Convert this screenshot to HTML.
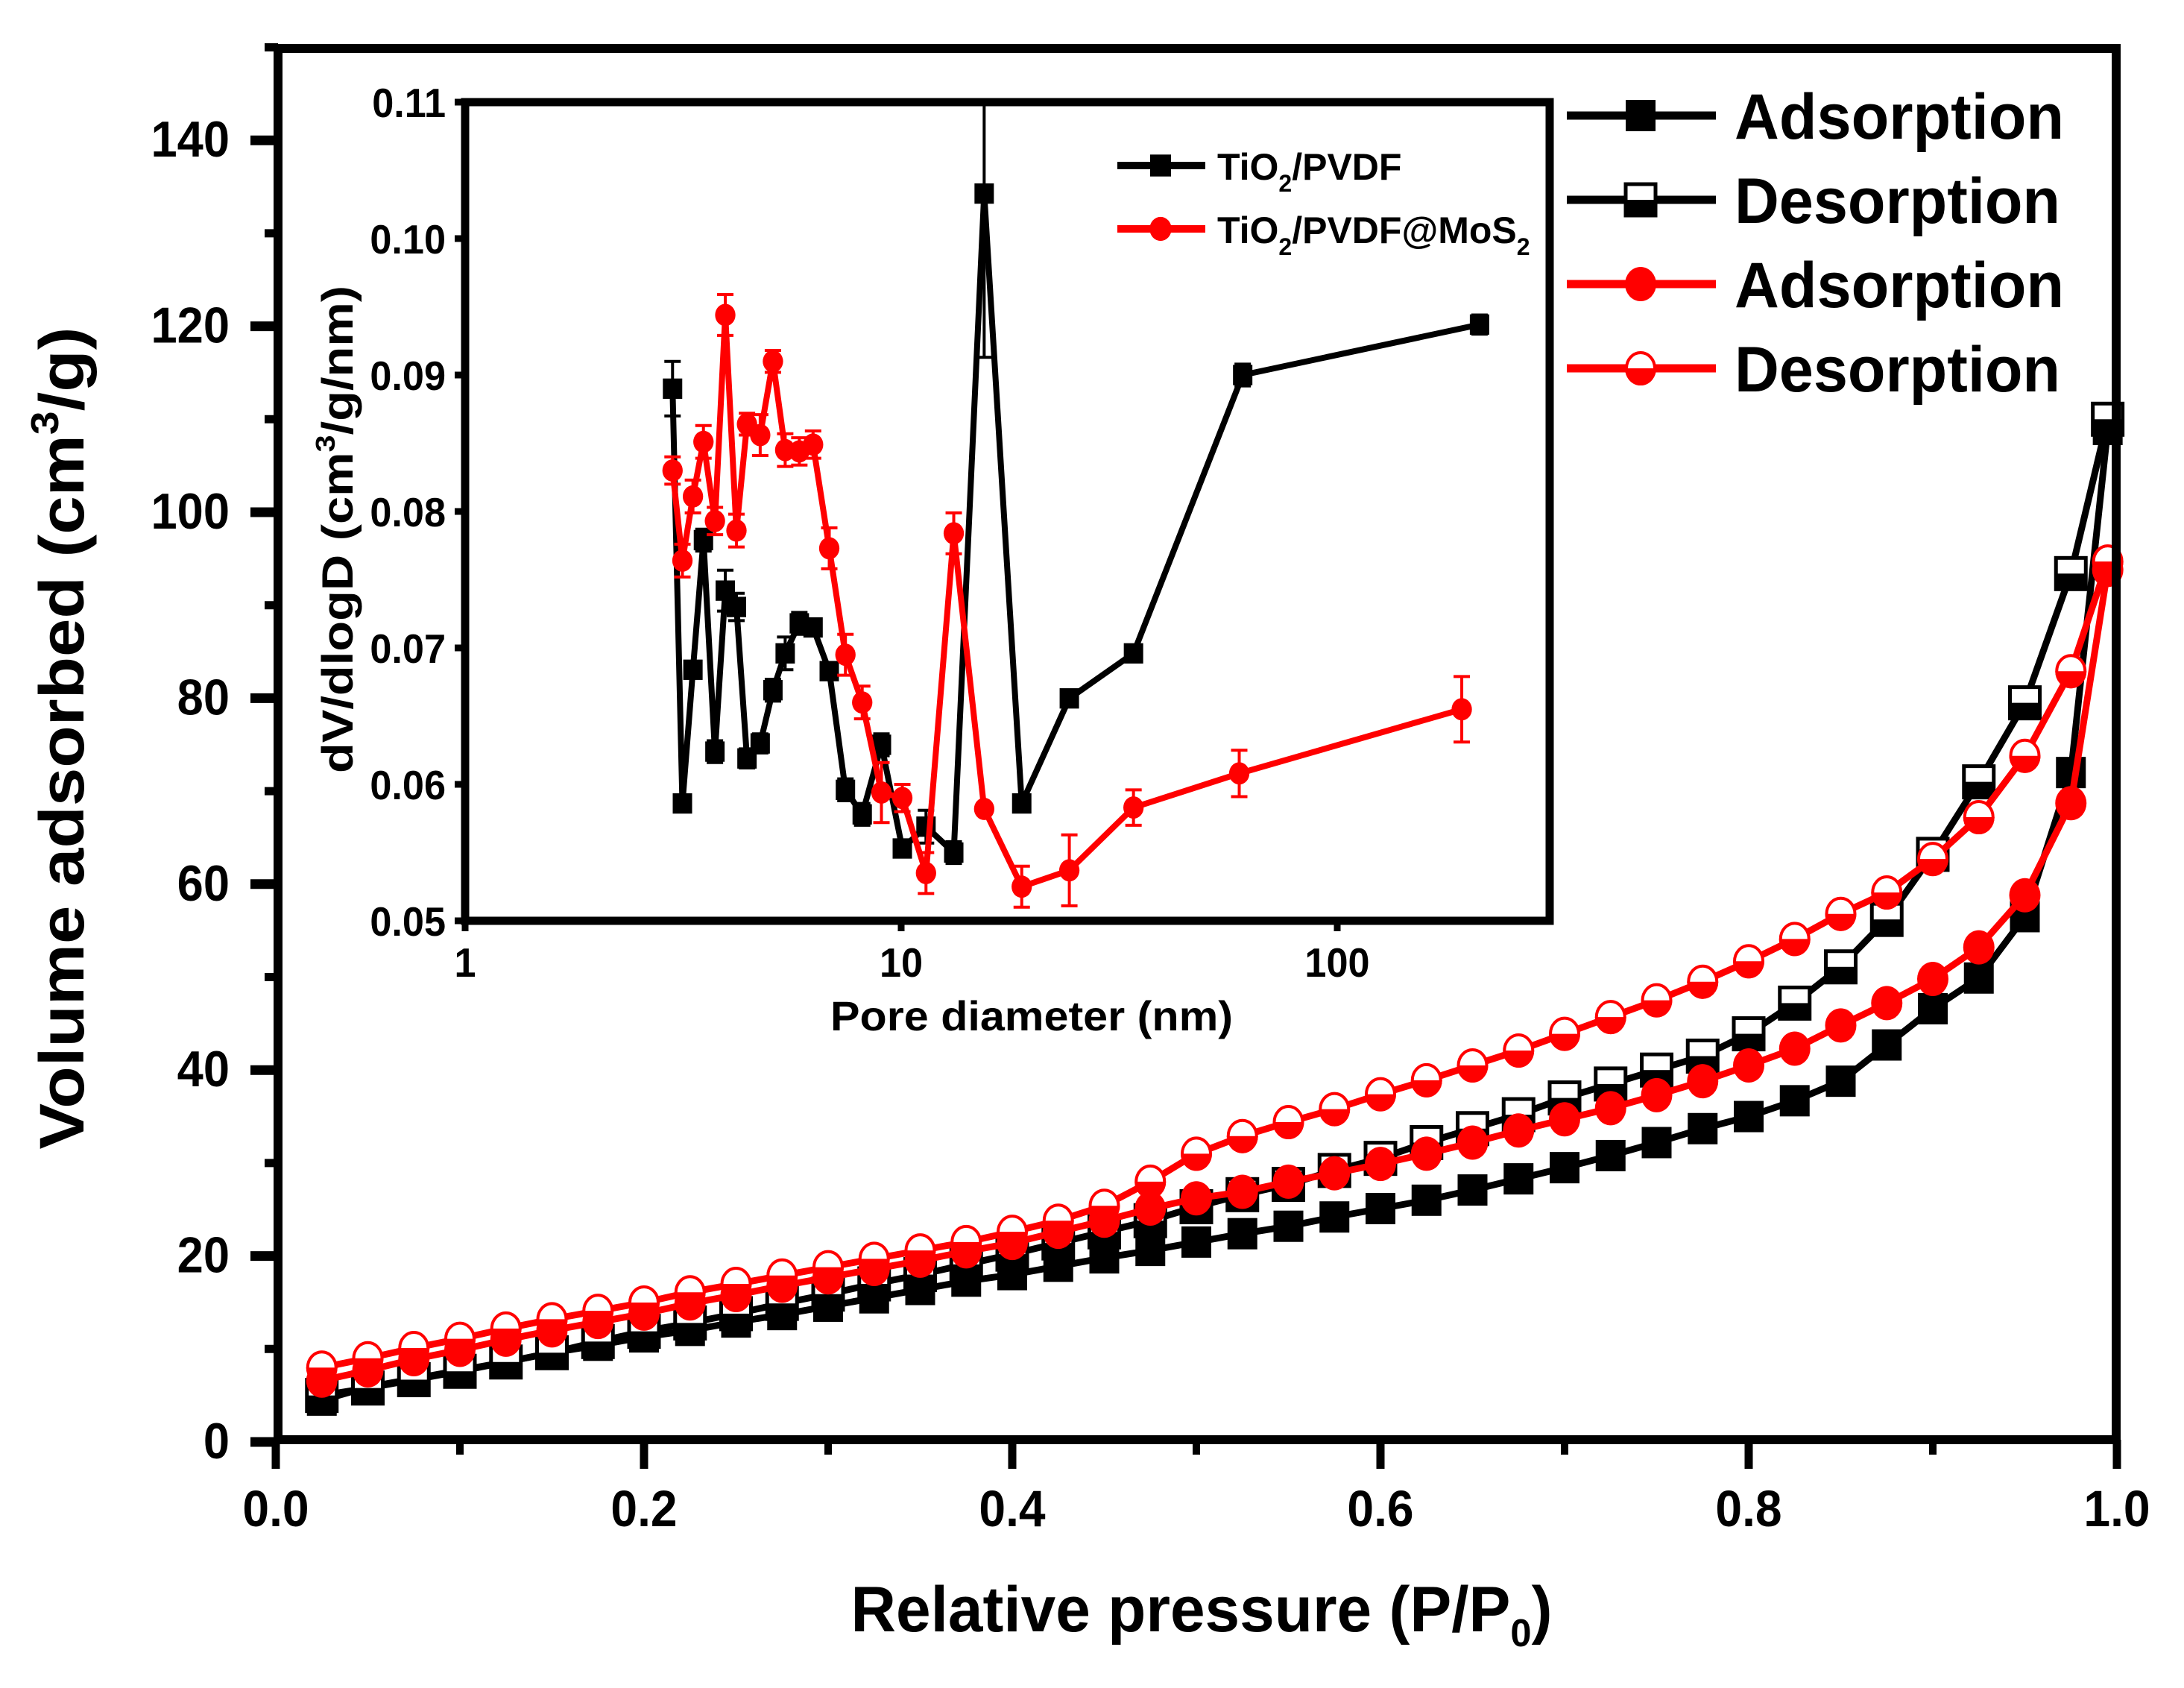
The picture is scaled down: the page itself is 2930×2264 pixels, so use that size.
<!DOCTYPE html>
<html><head><meta charset="utf-8"><style>
html,body{margin:0;padding:0;background:#fff;}
svg{display:block;font-family:"Liberation Sans",Arial,sans-serif;font-weight:bold;}
</style></head><body>
<svg id="chart" width="2930" height="2264" viewBox="0 0 2930 2264" xmlns="http://www.w3.org/2000/svg">
<rect x="0" y="0" width="2930" height="2264" fill="#fff"/>
<g id="main"></g>
<g id="inset"></g>
</svg>
<script>
// ---- main isotherm data ----
const pAds = [0.025,0.05,0.075,0.1,0.125,0.15,0.175,0.2,0.225,0.25,0.275,0.3,0.325,0.35,0.375,0.4,0.425,0.45,0.475,0.5,0.525,0.55,0.575,0.6,0.625,0.65,0.675,0.7,0.725,0.75,0.775,0.8,0.825,0.85,0.875,0.9,0.925,0.95,0.975,0.995];
const tiAds = [4.5,5.9,6.8,7.7,8.6,9.6,10.4,11.3,12,12.9,13.7,14.6,15.5,16.4,17.3,18,18.9,19.8,20.6,21.5,22.4,23.2,24.2,25.1,26,27.1,28.3,29.5,30.8,32.2,33.7,35,36.7,38.8,42.7,46.6,49.9,56.5,72,108.9];
const tiDes = [5.0,5.8,6.7,7.6,8.6,9.6,10.8,11.9,12.8,13.8,14.9,15.9,17,18,19.1,20.2,21.4,22.6,23.8,25.3,26.6,27.7,29.2,30.5,32.2,33.7,35.2,37,38.5,40,41.5,43.9,47.2,51.1,56.2,63.2,71,79.5,93.4,110];
const moAds = [6.6,7.7,8.9,9.9,11,12,12.9,13.8,14.9,15.8,16.8,17.7,18.6,19.5,20.5,21.4,22.6,23.8,25.1,26.2,26.9,28,28.9,29.9,31,32.2,33.5,34.7,35.9,37.3,38.8,40.5,42.3,44.8,47.2,49.8,53.2,58.8,68.7,93.8];
const moDes = [8,9,10.1,11.1,12.2,13.2,14.1,15,16.1,17,17.9,18.8,19.7,20.6,21.5,22.6,23.8,25.4,28,31,32.9,34.4,35.8,37.4,38.9,40.5,42.1,43.9,45.7,47.5,49.5,51.7,54.1,56.8,59.1,62.7,67.2,73.8,82.9,94.7];
const xTicks = [0,0.2,0.4,0.6,0.8,1.0];
const xTickLabels = ["0.0","0.2","0.4","0.6","0.8","1.0"];
const yTicks = [0,20,40,60,80,100,120,140];
const yTickLabels = ["0","20","40","60","80","100","120","140"];
const legendLabels = ["Adsorption","Desorption","Adsorption","Desorption"];
// ---- inset pore data ----
const poreD = [2.99,3.15,3.33,3.52,3.74,3.95,4.19,4.43,4.75,5.08,5.42,5.84,6.28,6.84,7.45,8.14,9.01,10.06,11.4,13.2,15.5,18.9,24.3,34.1,60.7,212];
const tiPore = [0.0890,0.0586,0.0684,0.0779,0.0624,0.0742,0.0730,0.0619,0.0630,0.0669,0.0696,0.0718,0.0715,0.0683,0.0596,0.0578,0.0629,0.0553,0.0569,0.0550,0.1033,0.0586,0.0663,0.0696,0.0900,0.0937];
const tiErr = [0.002,0.0006,0.0006,0.0008,0.0008,0.0015,0.001,0.0007,0.0007,0.0008,0.0012,0.0008,0.0006,0.0006,0.0008,0.0008,0.0008,0.0005,0.0012,0.0008,0.012,0.0006,0.0005,0.0005,0.0008,0.0007];
const poreD2 = [2.99,3.15,3.33,3.52,3.74,3.95,4.19,4.43,4.75,5.08,5.42,5.84,6.28,6.84,7.45,8.14,9.01,10.06,11.4,13.2,15.5,18.9,24.3,34.1,59.6,193];
const moPore = [0.0830,0.0764,0.0811,0.0851,0.0793,0.0944,0.0786,0.0864,0.0856,0.0910,0.0845,0.0844,0.0849,0.0773,0.0695,0.0660,0.0594,0.0590,0.0535,0.0784,0.0582,0.0525,0.0537,0.0583,0.0608,0.0655];
const moErr = [0.001,0.0012,0.0012,0.0012,0.001,0.0015,0.0012,0.0008,0.0015,0.0008,0.0012,0.001,0.001,0.0015,0.0015,0.0012,0.0022,0.001,0.0015,0.0015,0.0003,0.0015,0.0026,0.0013,0.0017,0.0024];
const insetYTicks = [0.05,0.06,0.07,0.08,0.09,0.10,0.11];
const insetYLabels = ["0.05","0.06","0.07","0.08","0.09","0.10","0.11"];
const insetXTicks = [1,10,100];
const insetXLabels = ["1","10","100"];

const NS="http://www.w3.org/2000/svg";
function mk(parent,tag,attrs,text){const e=document.createElementNS(NS,tag);for(const k in attrs)e.setAttribute(k,attrs[k]);if(text!==undefined)e.textContent=text;parent.appendChild(e);return e;}

// main axes
const X0=370,X1=2840,Y0=1934,YPU=12.47;
const L=373,R=2839,T=65,B=1931;
const xs=v=>X0+(X1-X0)*v;
const ys=v=>Y0-v*YPU;
const main=document.getElementById('main');

function series(vals,color,kind,fill,name){
  const g=mk(main,'g',{});
  
  
  const pts=vals.map((v,i)=>xs(pAds[i])+','+ys(v)).join(' ');
  const pl=mk(g,'polyline',{points:pts,fill:'none',stroke:color,'stroke-width':9,'stroke-linejoin':'round'});
  
  
  vals.forEach((v,i)=>{const m=marker(g,xs(pAds[i]),ys(v),color,kind,fill,1);
    
    });
}
function marker(g,cx,cy,color,kind,fill,s){
  const m=mk(g,'g',{});
  if(kind==='sq'){const w=40*s,h=42*s;
    if(fill==='full')mk(m,'rect',{x:cx-w/2,y:cy-h/2,width:w,height:h,fill:color});
    else{mk(m,'rect',{x:cx-w/2,y:cy-h/2,width:w,height:h,fill:'#fff',stroke:color,'stroke-width':5});
      mk(m,'rect',{x:cx-w/2,y:cy,width:w,height:h/2,fill:color});}
  }else{const rx=21*s,ry=23*s;
    if(fill==='full')mk(m,'ellipse',{cx:cx,cy:cy,rx:rx,ry:ry,fill:color});
    else{mk(m,'ellipse',{cx:cx,cy:cy,rx:rx-2,ry:ry-2,fill:'#fff',stroke:color,'stroke-width':4});
      mk(m,'path',{d:`M${cx-rx} ${cy} A${rx} ${ry} 0 0 0 ${cx+rx} ${cy} Z`,fill:color});}
  }
  return m;
}
series(tiAds,'#000','sq','full','tio2-pvdf-adsorption');
series(tiDes,'#000','sq','half','tio2-pvdf-desorption');
series(moAds,'#f00','ci','full','mos2-adsorption');
series(moDes,'#f00','ci','half','mos2-desorption');

// frame
const fr=mk(main,'rect',{x:L,y:T,width:R-L,height:B-T,fill:'none',stroke:'#000','stroke-width':12});


// x ticks
xTicks.forEach((v,i)=>{
  mk(main,'line',{x1:xs(v),y1:B,x2:xs(v),y2:1970,stroke:'#000','stroke-width':11});
  const t=mk(main,'text',{transform:`translate(${xs(v)},2047) scale(0.93,1)`,'text-anchor':'middle','font-size':69},xTickLabels[i]);
  
  
  if(i<xTicks.length-1)mk(main,'line',{x1:xs(v+0.1),y1:B,x2:xs(v+0.1),y2:1951,stroke:'#000','stroke-width':10});
});
yTicks.forEach((v,i)=>{
  mk(main,'line',{x1:L,y1:ys(v),x2:336,y2:ys(v),stroke:'#000','stroke-width':13});
  mk(main,'line',{x1:L,y1:ys(v+10),x2:355,y2:ys(v+10),stroke:'#000','stroke-width':11});
  const t=mk(main,'text',{transform:`translate(308,${ys(v)+22}) scale(0.93,1)`,'text-anchor':'end','font-size':68},yTickLabels[i]);
  
  
});
let xt=mk(main,'text',{x:1612,y:2188,'text-anchor':'middle','font-size':86,textLength:941,lengthAdjust:'spacingAndGlyphs'});


xt.innerHTML='Relative pressure (P/P<tspan dy="20" font-size="52">0</tspan><tspan dy="-20">)</tspan>';
let yt=mk(main,'text',{transform:'translate(112,990) rotate(-90)','text-anchor':'middle','font-size':84,textLength:1103,lengthAdjust:'spacingAndGlyphs'});


yt.innerHTML='Volume adsorbed (cm<tspan dy="-34" font-size="52">3</tspan><tspan dy="34">/g)</tspan>';
// legend
const legY=[155,268,381,494];
const legC=['#000','#000','#f00','#f00'],legK=['sq','sq','ci','ci'],legF=['full','half','full','half'];
legendLabels.forEach((lab,i)=>{
  const g=mk(main,'g',{});
  
  
  mk(g,'line',{x1:2102,y1:legY[i],x2:2302,y2:legY[i],stroke:legC[i],'stroke-width':11});
  marker(g,2201,legY[i],legC[i],legK[i],legF[i],1);
  mk(g,'text',{x:2327,y:legY[i]+31,'font-size':86,textLength:(i%2?437:442),lengthAdjust:'spacingAndGlyphs'},lab);
});

// inset
const inset=document.getElementById('inset');
const IL=624,IR=2079,IT=137,IB=1235;
const ix=d=>IL+585*Math.log10(d);
const iy=v=>IB-(v-0.05)/0.06*(IB-IT);
const bg=mk(inset,'rect',{x:IL,y:IT,width:IR-IL,height:IB-IT,fill:'#fff',stroke:'#000','stroke-width':11});


insetYTicks.forEach((v,i)=>{
  mk(inset,'line',{x1:IL,y1:iy(v),x2:610,y2:iy(v),stroke:'#000','stroke-width':9});
  const t=mk(inset,'text',{transform:`translate(598,${iy(v)+20}) scale(0.95,1)`,'text-anchor':'end','font-size':55},insetYLabels[i]);
  
  
});
insetXTicks.forEach((v,i)=>{
  mk(inset,'line',{x1:ix(v),y1:IB,x2:ix(v),y2:IB+14,stroke:'#000','stroke-width':9});
  const t=mk(inset,'text',{transform:`translate(${ix(v)},1310) scale(0.95,1)`,'text-anchor':'middle','font-size':55},insetXLabels[i]);
  
  
});
function iseries(xsArr,vals,errs,color,kind,name){
  const g=mk(inset,'g',{});
  
  
  vals.forEach((v,i)=>{const x=ix(xsArr[i]);const top=Math.max(iy(v+errs[i]),IT),bot=iy(v-errs[i]);
    mk(g,'line',{x1:x,y1:top,x2:x,y2:bot,stroke:color,'stroke-width':4});
    if(top>IT)mk(g,'line',{x1:x-11,y1:top,x2:x+11,y2:top,stroke:color,'stroke-width':4});
    mk(g,'line',{x1:x-11,y1:bot,x2:x+11,y2:bot,stroke:color,'stroke-width':4});});
  mk(g,'polyline',{points:vals.map((v,i)=>ix(xsArr[i])+','+iy(v)).join(' '),fill:'none',stroke:color,'stroke-width':8,'stroke-linejoin':'round'});
  vals.forEach((v,i)=>{const m=marker(g,ix(xsArr[i]),iy(v),color,kind,'full',0.65);
    
    });
}
iseries(poreD,tiPore,tiErr,'#000','sq','inset-tio2-pvdf');
iseries(poreD2,moPore,moErr,'#f00','ci','inset-tio2-pvdf-mos2');
let it=mk(inset,'text',{x:1384,y:1382,'text-anchor':'middle','font-size':56,textLength:540,lengthAdjust:'spacingAndGlyphs'},'Pore diameter (nm)');


let iyt=mk(inset,'text',{transform:'translate(473,710) rotate(-90)','text-anchor':'middle','font-size':58,textLength:654,lengthAdjust:'spacingAndGlyphs'});


iyt.innerHTML='dV/dlogD (cm<tspan dy="-24" font-size="36">3</tspan><tspan dy="24">/g/nm)</tspan>';
[[222,'#000','sq','TiO<tspan dy="16" font-size="32">2</tspan><tspan dy="-16">/PVDF</tspan>'],[307,'#f00','ci','TiO<tspan dy="16" font-size="32">2</tspan><tspan dy="-16">/PVDF@MoS</tspan><tspan dy="16" font-size="32">2</tspan>']].forEach(r=>{
  const g=mk(inset,'g',{});
  
  
  mk(g,'line',{x1:1499,y1:r[0],x2:1617,y2:r[0],stroke:r[1],'stroke-width':10});
  marker(g,1557,r[0],r[1],r[2],'full',0.7);
  const t=mk(g,'text',{x:1633,y:r[0]+19,'font-size':50,fill:'#000'});
  t.innerHTML=r[3];
});
</script>
</body></html>
